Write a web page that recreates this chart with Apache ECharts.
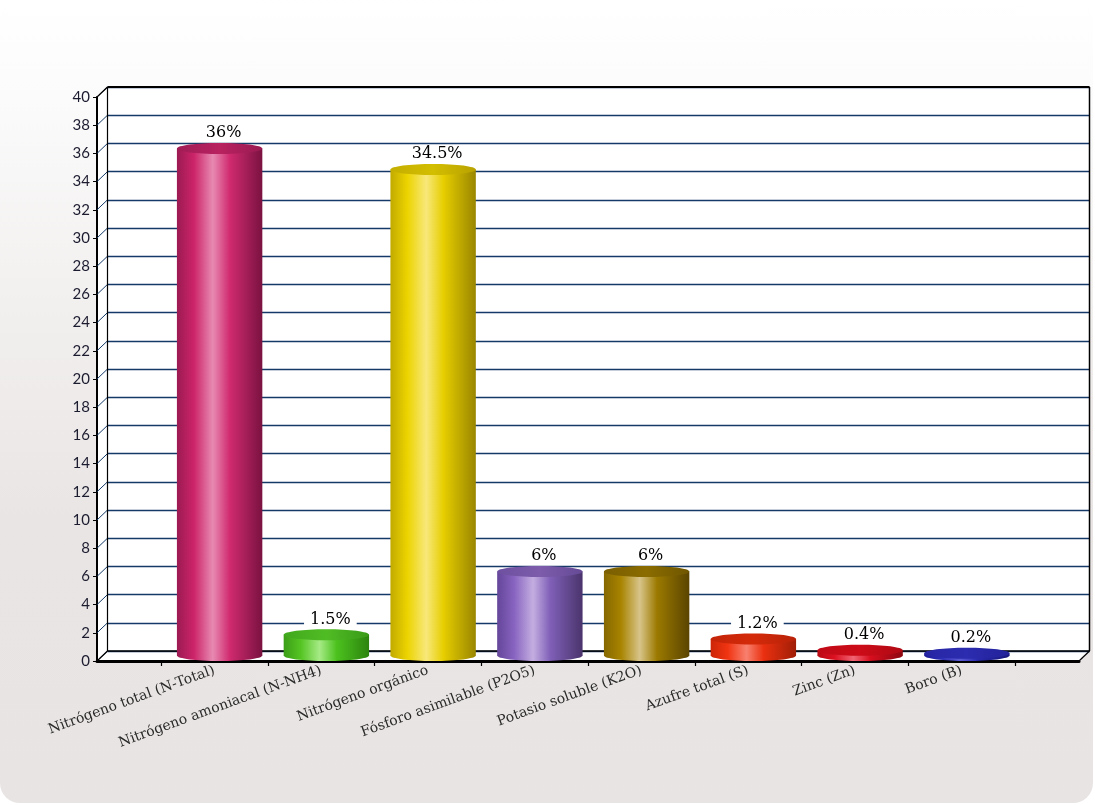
<!DOCTYPE html>
<html><head><meta charset="utf-8">
<script src="https://cdn.jsdelivr.net/npm/echarts@6/dist/echarts.min.js"></script>
<style>
html,body{margin:0;padding:0;background:#fff;}
#bg{position:absolute;left:0;top:0;width:1093px;height:803px;border-radius:20px;
background:linear-gradient(to bottom,#ffffff 0%,#fcfcfc 10%,#f1efee 40%,#e9e5e4 65%,#e8e4e3 100%);}
#chart{position:absolute;left:0;top:0;width:1095px;height:805px;}
</style></head>
<body><div id="bg"></div><div id="chart"></div>
<script>
const categories = ['Nitrógeno total (N-Total)','Nitrógeno amoniacal (N-NH4)','Nitrógeno orgánico','Fósforo asimilable (P2O5)','Potasio soluble (K2O)','Azufre total (S)','Zinc (Zn)','Boro (B)'];
const values = [36, 1.5, 34.5, 6, 6, 1.2, 0.4, 0.2];
const valueLabels = ['36%','1.5%','34.5%','6%','6%','1.2%','0.4%','0.2%'];
const yTicks = [0,2,4,6,8,10,12,14,16,18,20,22,24,26,28,30,32,34,36,38,40];
const Y_MIN = 0, Y_MAX = 40, Y_STEP = 2;
// body gradient stops: left edge, mid, highlight, mid, right edge ; top ellipse colour
const barColors = [
  {body:['#9c1a52','#cc2468','#e78ab2','#d02a6e','#7a1240'], top:['#a01c56','#b8225f','#9a1a52']},
  {body:['#3c9e18','#54c422','#a6ea86','#4cc21e','#2c840e'], top:['#40a81c','#50bc24','#3a9a18']},
  {body:['#c2aa00','#ecd400','#f8e87a','#e6ce00','#9a8600'], top:['#c4ae00','#d4be00','#b8a200']},
  {body:['#64469a','#8864c0','#c4aee0','#8060b8','#4a346c'], top:['#6e50a0','#7c5cab','#664a96']},
  {body:['#866800','#a88400','#d8c48a','#9c7a00','#5a4400'], top:['#7a5e00','#8a6c00','#705600']},
  {body:['#cc2608','#f03412','#f8806e','#ea3010','#a01e06'], top:['#c42408','#d42a0a','#b82208']},
  {body:['#b80a14','#dc1020','#f06474','#d80e1e','#8c0810'], top:['#c00a16','#cc0c18','#b00a14']},
  {body:['#1e1e98','#2c2cb4','#5a5ad4','#2a2ab0','#18187c'], top:['#2626a4','#2c2cb0','#22229a']}
];
const DX = 10.5, DY = 10;
const STOP_POS = [0, 0.2, 0.42, 0.62, 1];

function grad(stops){
  return new echarts.graphic.LinearGradient(0,0,1,0, stops.map((c,i)=>({offset:STOP_POS[i], color:c})));
}

function renderBar(params, api){
  const idx = api.value(0), v = api.value(1);
  const top = api.coord([idx, v]);
  const base = api.coord([idx, 0]);
  const bw = api.size([1,0])[0]*0.8;
  const cx = top[0] + DX/2, rx = bw/2, ry = 5.5;
  const yTop = top[1] - DY/2, yBot = base[1] - DY/2 - 0.5;
  const c = barColors[idx];
  return {type:'group', children:[
    {type:'ellipse', shape:{cx:cx, cy:yBot, rx:rx, ry:ry}, style:{fill:grad(c.body)}},
    {type:'rect', shape:{x:cx-rx, y:yTop, width:bw, height:Math.max(0,yBot-yTop)}, style:{fill:grad(c.body)}},
    {type:'ellipse', shape:{cx:cx, cy:yTop, rx:rx, ry:ry}, style:{fill:new echarts.graphic.LinearGradient(0,0,1,0,[{offset:0,color:c.top[0]},{offset:0.5,color:c.top[1]},{offset:1,color:c.top[2]}])}},
    {type:'text', x:cx+4, y:yTop-ry-2, style:{text:valueLabels[idx], align:'center', verticalAlign:'bottom',
      font:'16px "DejaVu Serif"', fill:'#000', backgroundColor:'#fff', padding:[1,6,0,6]}}
  ]};
}

function renderWallFill(params, api){
  const p00 = api.coord([0,Y_MIN]), p10 = api.coord([1,Y_MIN]), p01 = api.coord([0,Y_MAX]), p11 = api.coord([1,Y_MAX]);
  const b = p => [p[0]+DX, p[1]-DY];
  return {type:'polygon', shape:{points:[p01,b(p01),b(p11),b(p10),p10,p00]}, style:{fill:'#fff'}};
}

function renderEdges(params, api){
  const p00 = api.coord([0,Y_MIN]), p10 = api.coord([1,Y_MIN]), p01 = api.coord([0,Y_MAX]), p11 = api.coord([1,Y_MAX]);
  const b = p => [p[0]+DX, p[1]-DY];
  const L = (a,c,w) => ({type:'line', shape:{x1:a[0],y1:a[1],x2:c[0],y2:c[1]}, style:{stroke:'#000', lineWidth:w}});
  return {type:'group', children:[
    L(b(p01),b(p11),2), L(b(p11),b(p10),1.5), L(b(p00),b(p01),1.2), L(b(p00),b(p10),1.5),
    L(p01,b(p01),1.2), L(p00,b(p00),1.2), L(p10,b(p10),1.2)
  ]};
}

function renderTickDiag(params, api){
  const p = api.coord([0, api.value(1)]);
  return {type:'line', shape:{x1:p[0],y1:p[1],x2:p[0]+DX,y2:p[1]-DY}, style:{stroke:'#163a68', lineWidth:1}};
}

const chart = echarts.init(document.getElementById('chart'), null, {renderer:'canvas'});
chart.setOption({
  backgroundColor:'transparent',
  animation:false,
  grid:[
    {left:97+DX, top:97-DY, width:982, height:564, show:false},
    {left:97, top:97, width:982, height:564, show:false},
    {left:161, top:97, width:854, height:564, show:false}
  ],
  xAxis:[
    {gridIndex:0, type:'value', min:0, max:1, show:false},
    {gridIndex:1, type:'value', min:0, max:1, axisLine:{show:true, onZero:false, lineStyle:{color:'#000', width:3}},
      axisTick:{show:false}, axisLabel:{show:false}, splitLine:{show:false}},
    {gridIndex:2, type:'category', data:categories, axisLine:{show:false},
      axisTick:{show:true, length:5, lineStyle:{color:'#000', width:1.2}},
      axisLabel:{rotate:20, margin:9, interval:0, fontFamily:'DejaVu Serif', fontSize:14, color:'#2a2a2a'}}
  ],
  yAxis:[
    {gridIndex:0, type:'value', min:Y_MIN, max:Y_MAX, interval:Y_STEP, axisLine:{show:false}, axisTick:{show:false},
      axisLabel:{show:false}, splitLine:{show:true, lineStyle:{color:'#163a68', width:1.3}}},
    {gridIndex:1, type:'value', min:Y_MIN, max:Y_MAX, interval:Y_STEP,
      axisLine:{show:true, lineStyle:{color:'#000', width:2}},
      axisTick:{show:true, length:4, lineStyle:{color:'#000', width:1}},
      axisLabel:{margin:7, fontFamily:'Lato', fontSize:15, color:'#1c1c30'}, splitLine:{show:false}},
    {gridIndex:2, type:'value', min:Y_MIN, max:Y_MAX, show:false}
  ],
  series:[
    {type:'custom', xAxisIndex:1, yAxisIndex:1, z:-1, data:[[0,0]], renderItem:renderWallFill, silent:true},
    {type:'custom', xAxisIndex:1, yAxisIndex:1, z:3, data:yTicks.map(t=>[0,t]), renderItem:renderTickDiag, silent:true},
    {type:'custom', xAxisIndex:1, yAxisIndex:1, z:3, data:[[0,0]], renderItem:renderEdges, silent:true},
    {type:'custom', xAxisIndex:2, yAxisIndex:2, z:4, data:values.map((v,i)=>[i,v]), renderItem:renderBar}
  ]
});
</script>
</body></html>
